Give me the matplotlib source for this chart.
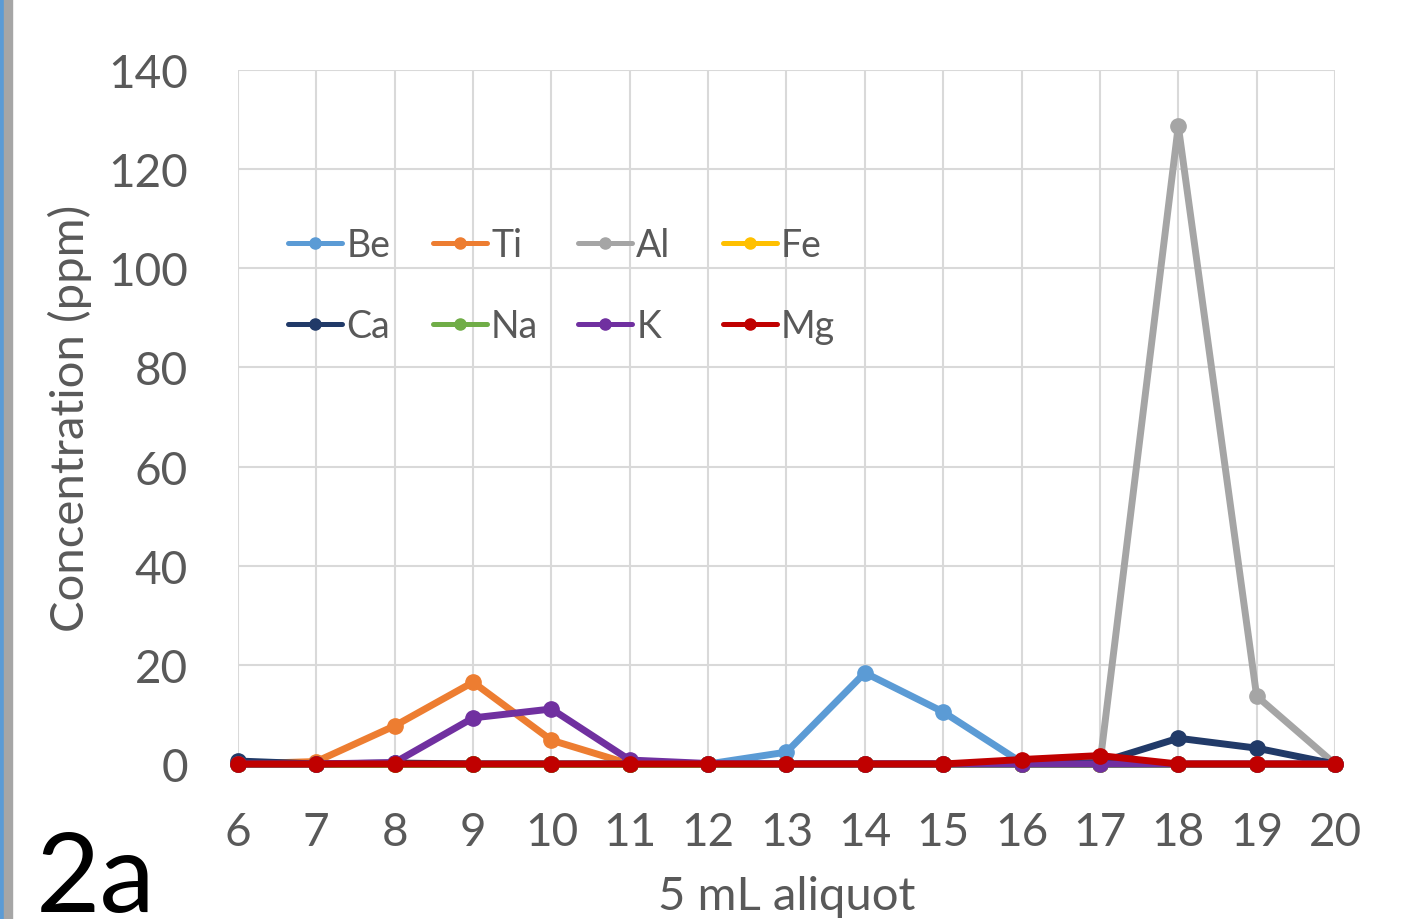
import matplotlib
matplotlib.use("Agg")
import matplotlib.pyplot as plt
from matplotlib.patches import Rectangle

aliquots = [6, 7, 8, 9, 10, 11, 12, 13, 14, 15, 16, 17, 18, 19, 20]
series_names = ["Be", "Ti", "Al", "Fe", "Ca", "Na", "K", "Mg"]
Be = [0, 0, 0, 0, 0, 0, 0, 2.4, 18.4, 10.5, 0.3, 0, 0, 0, 0]
Ti = [0, 0.5, 7.7, 16.5, 4.8, 0, 0, 0, 0, 0, 0, 0, 0, 0, 0]
Al = [0, 0, 0, 0, 0, 0, 0, 0, 0, 0, 0, 0, 128.7, 13.7, 0]
Fe = [0, 0, 0, 0, 0, 0, 0, 0, 0, 0, 0, 0, 0, 0, 0]
Ca = [0.6, 0, 0.2, 0, 0, 0, 0, 0, 0, 0, 0, 0.3, 5.2, 3.2, 0]
Na = [0, 0, 0, 0, 0, 0, 0, 0, 0, 0, 0, 0, 0, 0, 0]
K = [0, 0, 0.3, 9.3, 11.1, 0.8, 0.1, 0, 0, 0, 0, 0, 0, 0, 0]
Mg = [0, 0, 0, 0, 0, 0, 0, 0, 0, 0, 0.9, 1.7, 0, 0, 0]
values = [Be, Ti, Al, Fe, Ca, Na, K, Mg]
colors = ["#5B9BD5", "#ED7D31", "#A5A5A5", "#FFC000", "#213A68", "#70AD47", "#7030A0", "#C00000"]
yticks = [0, 20, 40, 60, 80, 100, 120, 140]

plt.rcParams['font.family'] = ['Lato', 'DejaVu Sans']
txt = "#595959"

fig = plt.figure(figsize=(14.19, 9.2), dpi=100)
ax = fig.add_axes([238/1419, 1-765/920, (1335-238)/1419, (765-71)/920])

handles = []
for name, vals, c in zip(series_names, values, colors):
    h, = ax.plot(aliquots, vals, color=c, lw=5, marker='o', ms=11,
                 solid_joinstyle='round', solid_capstyle='round',
                 clip_on=False, label=name, zorder=3)
    handles.append(h)

ax.set_xlim(6, 20)
ax.set_ylim(0, 140)
ax.set_xticks(aliquots)
ax.set_yticks(yticks)
ax.grid(True, color="#d9d9d9", lw=1.5)
ax.set_axisbelow(True)
for s in ax.spines.values():
    s.set_visible(False)
ax.tick_params(length=0, labelsize=33, labelcolor=txt)
ax.tick_params(axis='x', pad=34)
ax.tick_params(axis='y', pad=36)

col_x = [288, 433, 578, 723]
for i, cx in enumerate(col_x):
    hh = [handles[i], handles[i+4]]
    leg = ax.legend(hh, [h.get_label() for h in hh], loc='center left',
                    bbox_to_anchor=((cx-238)/1097, (765-287)/694),
                    frameon=False, fontsize=27, labelcolor=txt,
                    handlelength=1.45, handletextpad=0.1, labelspacing=1.2,
                    borderpad=0, borderaxespad=0)
    for lh in leg.get_lines():
        lh.set_linewidth(3.6)
        lh.set_markersize(8)
    if i < 3:
        ax.add_artist(leg)

fig.text(70/1419, 1-418/920, "Concentration (ppm)", rotation=90, ha='center', va='center',
         fontsize=34, color=txt)
fig.text(787/1419, 1-897/920, "5 mL aliquot", ha='center', va='center',
         fontsize=34, color=txt)
fig.text(36/1419, 1-912/920, "2a", ha='left', va='baseline', fontsize=80, color='black')

fig.patches.append(Rectangle((0, 0), 4/1419, 1, transform=fig.transFigure,
                             color="#5B9BD5", zorder=0))
fig.patches.append(Rectangle((4/1419, 0), 8/1419, 1, transform=fig.transFigure,
                             color="#A6A6A6", zorder=0))

fig.savefig("out.png", dpi=100)
